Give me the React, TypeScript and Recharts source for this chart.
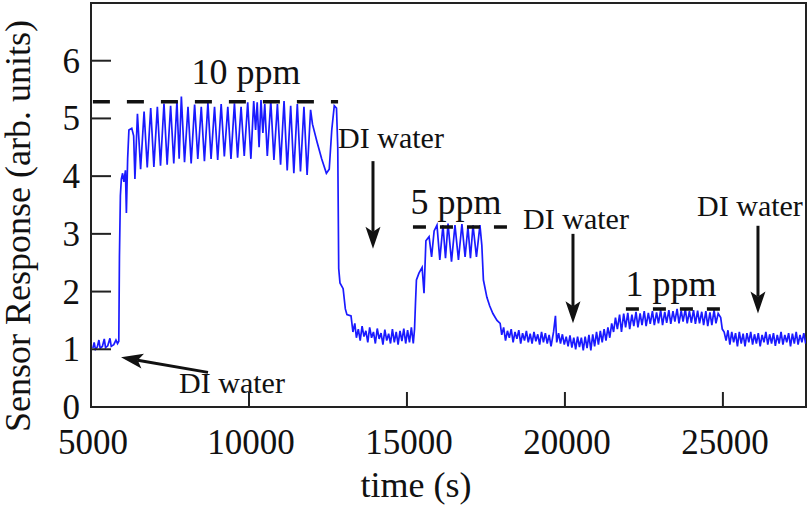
import { LineChart, Line, XAxis, YAxis, ReferenceLine, ReferenceDot, ReferenceArea } from 'recharts'

const FONT = '"Liberation Serif", "Times New Roman", serif'
const INK = '#111'
const FRAME = '#222'

// sensor response: [time (s), response (arb. units)]
const diWaterStart: [number, number][] = [
  [5060, 1.02], [5100, 1.12], [5140, 1.0], [5200, 1.04], [5250, 1.16], [5290, 1.02],
  [5360, 1.05], [5420, 1.18], [5460, 1.03], [5530, 1.06], [5600, 1.19], [5640, 1.05],
  [5720, 1.08], [5790, 1.16], [5840, 1.1], [5880, 1.14],
]

const ppm10: [number, number][] = [
  [5900, 2.6], [5930, 3.66], [5960, 3.95], [6000, 4.05], [6040, 3.9], [6090, 4.1],
  [6120, 3.36], [6160, 4.3], [6200, 4.8], [6290, 4.83], [6350, 4.7], [6390, 3.95],
  [6470, 5.08], [6570, 4.12], [6680, 5.12], [6780, 4.15], [6890, 5.18], [6990, 4.16],
  [7100, 5.2], [7200, 4.18], [7310, 5.26], [7410, 4.2], [7520, 5.22], [7620, 4.22],
  [7720, 5.3], [7790, 4.3], [7860, 5.38], [7960, 4.24], [8070, 5.2], [8170, 4.22],
  [8280, 5.24], [8380, 4.3], [8490, 5.2], [8590, 4.26], [8700, 5.27], [8800, 4.3],
  [8910, 5.2], [9010, 4.28], [9120, 5.25], [9220, 4.34], [9330, 5.2], [9430, 4.3],
  [9540, 5.26], [9640, 4.32], [9750, 5.2], [9850, 4.35], [9960, 5.28], [10060, 4.3],
  [10150, 5.3], [10210, 4.8], [10260, 5.28], [10320, 4.5], [10380, 5.32], [10440, 4.75],
  [10500, 5.25], [10580, 4.35], [10690, 5.3], [10790, 4.28], [10900, 5.25], [11000, 4.2],
  [11110, 5.3], [11210, 4.1], [11320, 5.22], [11420, 4.05], [11530, 5.25], [11630, 4.08],
  [11740, 5.2], [11840, 4.02], [11950, 5.15], [12010, 4.9], [12150, 4.6], [12300, 4.3],
  [12450, 4.05], [12540, 4.12], [12620, 4.8], [12700, 5.22], [12770, 5.18], [12810, 4.5],
]

const diWaterAfter10: [number, number][] = [
  [12840, 2.4], [12880, 2.15], [12980, 2.05], [13050, 1.7], [13100, 1.6], [13230, 1.58],
  [13290, 1.3], [13350, 1.45], [13400, 1.2], [13460, 1.35], [13520, 1.15], [13580, 1.4],
  [13640, 1.22], [13700, 1.32], [13760, 1.12], [13820, 1.38], [13880, 1.2], [13940, 1.3],
  [14000, 1.1], [14060, 1.36], [14120, 1.18], [14180, 1.28], [14240, 1.08], [14300, 1.34],
  [14360, 1.15], [14420, 1.27], [14480, 1.1], [14540, 1.35], [14600, 1.12], [14660, 1.3],
  [14720, 1.08], [14780, 1.32], [14840, 1.14], [14900, 1.36], [14960, 1.1], [15020, 1.33],
  [15080, 1.12], [15140, 1.38], [15200, 1.1], [15240, 1.35],
]

const ppm5: [number, number][] = [
  [15270, 1.8], [15300, 2.2], [15380, 2.32], [15480, 2.42], [15540, 1.97], [15600, 2.88],
  [15700, 2.95], [15780, 2.6], [15860, 3.05], [15950, 3.15], [16040, 2.55], [16140, 3.15],
  [16220, 2.58], [16300, 3.18], [16410, 2.52], [16520, 3.15], [16630, 2.55], [16740, 3.17],
  [16840, 2.6], [16930, 3.12], [17010, 2.58], [17090, 3.15], [17200, 2.6], [17310, 3.15],
  [17370, 2.8], [17420, 2.2], [17530, 1.9], [17620, 1.75], [17720, 1.62], [17850, 1.5],
]

const diWaterAfter5: [number, number][] = [
  [17950, 1.45], [18000, 1.25], [18060, 1.38], [18120, 1.15], [18180, 1.32], [18240, 1.2],
  [18300, 1.35], [18360, 1.12], [18420, 1.3], [18480, 1.18], [18540, 1.33], [18600, 1.1],
  [18660, 1.28], [18720, 1.15], [18780, 1.32], [18840, 1.12], [18900, 1.27], [18960, 1.1],
  [19020, 1.3], [19080, 1.14], [19140, 1.26], [19200, 1.08], [19260, 1.3], [19320, 1.12],
  [19380, 1.28], [19440, 1.1], [19500, 1.25], [19560, 1.05], [19640, 1.3], [19700, 1.58],
  [19740, 1.12], [19800, 1.28], [19860, 1.1], [19920, 1.26], [19980, 1.08], [20040, 1.22],
  [20100, 1.05], [20160, 1.24], [20220, 1.03], [20280, 1.2], [20340, 1.0], [20400, 1.22],
  [20460, 1.04], [20520, 1.2], [20580, 0.98], [20640, 1.22], [20700, 1.02], [20760, 1.25],
  [20820, 0.98], [20880, 1.26], [20940, 1.05], [21000, 1.3], [21060, 1.08], [21120, 1.32],
  [21180, 1.12], [21240, 1.35], [21300, 1.15], [21360, 1.38], [21420, 1.2],
]

const ppm1: [number, number][] = [
  [21480, 1.45], [21540, 1.3], [21600, 1.55], [21660, 1.35], [21730, 1.6], [21790, 1.3],
  [21860, 1.62], [21920, 1.38], [21990, 1.63], [22050, 1.35], [22120, 1.6], [22180, 1.4],
  [22250, 1.65], [22310, 1.38], [22380, 1.62], [22440, 1.42], [22510, 1.66], [22570, 1.4],
  [22640, 1.63], [22700, 1.44], [22770, 1.66], [22830, 1.42], [22900, 1.64], [22960, 1.45],
  [23030, 1.68], [23090, 1.42], [23160, 1.65], [23220, 1.46], [23290, 1.68], [23350, 1.44],
  [23420, 1.66], [23480, 1.48], [23550, 1.7], [23610, 1.45], [23680, 1.67], [23740, 1.48],
  [23810, 1.7], [23870, 1.45], [23940, 1.66], [24000, 1.46], [24070, 1.68], [24130, 1.44],
  [24200, 1.67], [24260, 1.45], [24330, 1.65], [24390, 1.42], [24460, 1.66], [24520, 1.4],
  [24590, 1.64], [24650, 1.42], [24720, 1.68], [24780, 1.45], [24850, 1.62], [24930, 1.55],
  [24980, 1.35],
]

const diWaterEnd: [number, number][] = [
  [25040, 1.3], [25100, 1.15], [25160, 1.33], [25220, 1.08], [25280, 1.3], [25340, 1.12],
  [25400, 1.28], [25460, 1.05], [25520, 1.3], [25580, 1.1], [25640, 1.27], [25700, 1.05],
  [25760, 1.28], [25820, 1.12], [25880, 1.3], [25940, 1.08], [26000, 1.26], [26060, 1.1],
  [26120, 1.28], [26180, 1.05], [26240, 1.25], [26300, 1.12], [26360, 1.3], [26420, 1.08],
  [26480, 1.26], [26540, 1.1], [26600, 1.28], [26660, 1.06], [26720, 1.25], [26780, 1.1],
  [26840, 1.3], [26900, 1.08], [26960, 1.25], [27020, 1.12], [27080, 1.28], [27140, 1.05],
  [27200, 1.27], [27260, 1.1], [27320, 1.3], [27380, 1.08], [27440, 1.25], [27500, 1.12],
  [27560, 1.28], [27620, 1.1],
]

const xTicks = [5000, 10000, 15000, 20000, 25000]
const yTicks = [0, 1, 2, 3, 4, 5, 6]
const xDomain = [5000, 27630]
const yDomain = [0, 7]

const data = [
  ...diWaterStart, ...ppm10, ...diWaterAfter10, ...ppm5,
  ...diWaterAfter5, ...ppm1, ...diWaterEnd,
].map(([t, v]) => ({ t, v }))

const LeftTick = ({ x, y, payload }: any) => (
  <g>
    <line x1={x} y1={y} x2={x + 20} y2={y} stroke={FRAME} strokeWidth={2} />
    <text x={x - 11} y={y + 12} textAnchor="end" fontSize={35} fontFamily={FONT} fill={INK}>
      {payload.value}
    </text>
  </g>
)

const RightTick = ({ x, y }: any) => (
  <line x1={x} y1={y} x2={x - 18} y2={y} stroke={FRAME} strokeWidth={2} />
)

const BottomTick = ({ x, y, payload }: any) => (
  <g>
    <line x1={x} y1={y} x2={x} y2={y - 15} stroke={FRAME} strokeWidth={2} />
    <text x={x + 2} y={y + 47} textAnchor="middle" fontSize={35} fontFamily={FONT} fill={INK}>
      {payload.value}
    </text>
  </g>
)

// arrow with a notched head, tip at the second point
const Arrow = ({ x1, y1, x2, y2 }: any) => {
  const a = Math.atan2(y2 - y1, x2 - x1)
  const c = Math.cos(a), s = Math.sin(a)
  const len = 22, half = 7.5
  const bx = x2 - len * c, by = y2 - len * s
  const nx = bx + 5 * c, ny = by + 5 * s
  return (
    <g>
      <line x1={x1} y1={y1} x2={nx} y2={ny} stroke={INK} strokeWidth={3} />
      <polygon
        points={`${x2},${y2} ${bx - s * half},${by + c * half} ${nx},${ny} ${bx + s * half},${by - c * half}`}
        fill={INK}
      />
    </g>
  )
}

const note = (text: string, size: number) => ({ cx, cy }: any) => (
  <text x={cx} y={cy} textAnchor="middle" fontSize={size} fontFamily={FONT} fill={INK}>
    {text}
  </text>
)

export default function App() {
  return (
    <div style={{ position: 'absolute', left: 0, top: 0 }}>
      <LineChart width={807} height={510} data={data} margin={{ top: 3, right: 1, left: 0, bottom: 0 }}>
        <XAxis
          dataKey="t"
          type="number"
          domain={xDomain}
          ticks={xTicks}
          interval={0}
          allowDataOverflow
          height={103}
          tickSize={0}
          tickMargin={0}
          tickLine={false}
          tick={<BottomTick />}
          axisLine={{ stroke: FRAME, strokeWidth: 2 }}
          label={{
            content: () => (
              <text x={416} y={497} textAnchor="middle" fontSize={36} fontFamily={FONT} fill={INK}>
                time (s)
              </text>
            ),
          }}
        />
        <YAxis
          type="number"
          domain={yDomain}
          ticks={yTicks}
          interval={0}
          allowDataOverflow
          width={91}
          tickSize={0}
          tickMargin={0}
          tickLine={false}
          tick={<LeftTick />}
          axisLine={{ stroke: FRAME, strokeWidth: 2 }}
          label={{
            content: () => (
              <text
                x={30}
                y={226}
                transform="rotate(-90 30 226)"
                textAnchor="middle"
                fontSize={36}
                fontFamily={FONT}
                fill={INK}
              >
                Sensor Response (arb. units)
              </text>
            ),
          }}
        />
        <YAxis
          yAxisId="right"
          orientation="right"
          type="number"
          domain={yDomain}
          ticks={yTicks}
          interval={0}
          width={0}
          tickSize={0}
          tickMargin={0}
          tickLine={false}
          tick={<RightTick />}
          axisLine={{ stroke: FRAME, strokeWidth: 2 }}
        />

        {/* plot frame */}
        <ReferenceArea
          x1={5000}
          x2={27630}
          y1={0}
          y2={7}
          ifOverflow="visible"
          fill="none"
          fillOpacity={0}
          stroke={FRAME}
          strokeWidth={2}
        />

        <Line
          dataKey="v"
          type="linear"
          stroke="#1a1aff"
          strokeWidth={1.7}
          dot={false}
          activeDot={false}
          isAnimationActive={false}
        />

        {/* concentration levels */}
        <ReferenceLine segment={[{ x: 5060, y: 5.29 }, { x: 12820, y: 5.29 }]} stroke={INK} strokeWidth={3.5} strokeDasharray="17 17" />
        <ReferenceLine segment={[{ x: 15190, y: 3.12 }, { x: 18170, y: 3.12 }]} stroke={INK} strokeWidth={3.5} strokeDasharray="13 14" />
        <ReferenceLine segment={[{ x: 21930, y: 1.7 }, { x: 24910, y: 1.7 }]} stroke={INK} strokeWidth={3.5} strokeDasharray="13 14" />

        <ReferenceDot x={9906} y={5.6} r={0} shape={note('10 ppm', 36)} />
        <ReferenceDot x={16552} y={3.34} r={0} shape={note('5 ppm', 36)} />
        <ReferenceDot x={23357} y={1.93} r={0} shape={note('1 ppm', 36)} />

        {/* DI water rinses */}
        <ReferenceDot x={14495} y={4.48} r={0} shape={note('DI water', 30)} />
        <ReferenceDot x={20350} y={3.09} r={0} shape={note('DI water', 30)} />
        <ReferenceDot x={25857} y={3.31} r={0} shape={note('DI water', 30)} />
        <ReferenceDot x={9463} y={0.24} r={0} shape={note('DI water', 30)} />

        <ReferenceLine segment={[{ x: 13925, y: 4.26 }, { x: 13925, y: 2.74 }]} shape={<Arrow />} />
        <ReferenceLine segment={[{ x: 20255, y: 3.0 }, { x: 20255, y: 1.45 }]} shape={<Arrow />} />
        <ReferenceLine segment={[{ x: 26110, y: 3.14 }, { x: 26110, y: 1.62 }]} shape={<Arrow />} />
        <ReferenceLine segment={[{ x: 8703, y: 0.6 }, { x: 5950, y: 0.86 }]} shape={<Arrow />} />
      </LineChart>
    </div>
  )
}
